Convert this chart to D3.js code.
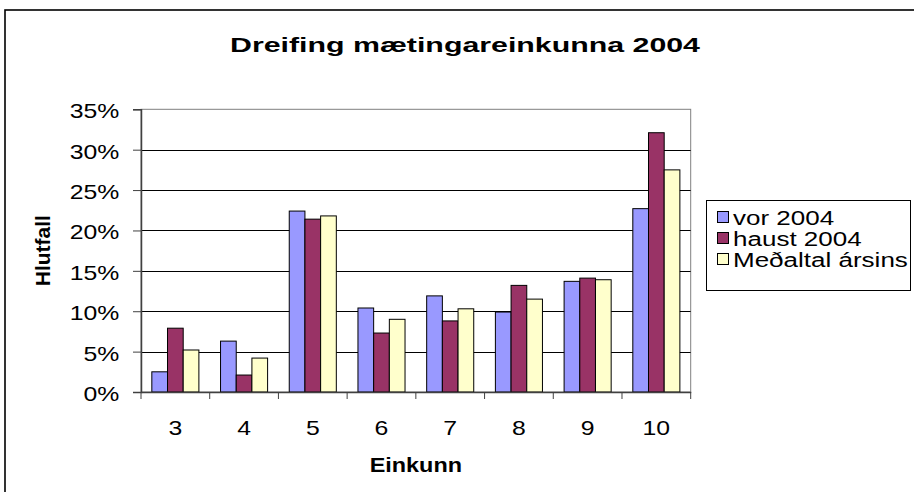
<!DOCTYPE html>
<html><head><meta charset="utf-8">
<script src="https://cdn.jsdelivr.net/npm/d3@7"></script>
<style>body{margin:0;background:#fff}svg{display:block;font-family:Arial,"Liberation Sans",sans-serif}</style>
</head><body><svg id="c" width="914" height="492"></svg>
<script>
const categories = ["3","4","5","6","7","8","9","10"];
const seriesNames = ["vor 2004","haust 2004","Meðaltal ársins"];
const vor = [2.5, 6.3, 22.4, 10.4, 11.9, 9.9, 13.7, 22.7];
const haust = [7.9, 2.1, 21.4, 7.3, 8.8, 13.2, 14.1, 32.1];
const medaltal = [5.2, 4.2, 21.8, 9.0, 10.3, 11.5, 13.9, 27.5];
const yTicks = [0,5,10,15,20,25,30,35];
const colors = ["#9999FF","#993366","#FFFFCC"];
const seriesValues = [vor, haust, medaltal];

const FONT = "Arial, 'Liberation Sans', sans-serif";
function stretch(sel, f){
  sel.each(function(){
    const w = this.getComputedTextLength();
    d3.select(this).attr("textLength", w*f).attr("lengthAdjust","spacingAndGlyphs");
  });
}

const svg = d3.select("#c");
// outer frame
svg.append("rect").attr("x",5).attr("y",10).attr("width",930).attr("height",500)
  .attr("fill","#fff").attr("stroke","#000").attr("stroke-width",1.6);

const L=141, R=690.7, T=109.3, B=392;
const x = d3.scaleBand().domain(categories).range([L,R]).paddingInner(0).paddingOuter(0);
const x1 = d3.scaleBand().domain([0,1,2]).range([0,x.bandwidth()]).paddingInner(0).paddingOuter(0.69);
const y = d3.scaleLinear().domain([0,35]).range([B,T]);

// plot area border (gray)
svg.append("rect").attr("x",L).attr("y",T).attr("width",R-L).attr("height",B-T)
  .attr("fill","#fff").attr("stroke","#808080").attr("stroke-width",1);

// gridlines
svg.append("g").selectAll("line").data(yTicks.filter(t=>t>0 && t<35)).join("line")
  .attr("x1",L).attr("x2",R).attr("y1",d=>Math.round(y(d))+0.5).attr("y2",d=>Math.round(y(d))+0.5)
  .attr("stroke","#000").attr("stroke-width",1);

// bars
const data = [];
categories.forEach((c,i)=>seriesValues.forEach((s,j)=>data.push({c,j,v:s[i]})));
svg.append("g").selectAll("rect").data(data).join("rect")
  .attr("x",d=>x(d.c)+x1(d.j)).attr("width",x1.bandwidth())
  .attr("y",d=>y(d.v)).attr("height",d=>y(0)-y(d.v))
  .attr("fill",d=>colors[d.j]).attr("stroke","#000").attr("stroke-width",1);

// y axis
const yAxis = d3.axisLeft(y).tickValues(yTicks).tickFormat(d=>d+"%").tickSize(8).tickPadding(13.7);
const gy = svg.append("g").attr("transform",`translate(${L},0)`).call(yAxis);
gy.select(".domain").attr("stroke","#404040").attr("stroke-width",1.5);
gy.selectAll(".tick line").attr("stroke","#404040");
gy.selectAll("text").attr("font-size",21).attr("fill","#000").attr("font-family",FONT).attr("dy","8.5px");
stretch(gy.selectAll("text"),1.18);

// x axis
const xAxis = d3.axisBottom(x).tickSize(0).tickPadding(0);
const gx = svg.append("g").attr("transform",`translate(0,${B})`).call(xAxis);
gx.select(".domain").attr("stroke","#404040").attr("stroke-width",1.5);
gx.selectAll("text").attr("font-size",21).attr("fill","#000").attr("font-family",FONT).attr("y",43).attr("dy",0);
stretch(gx.selectAll("text"),1.18);
// category boundary ticks
gx.append("g").selectAll("line").data(categories.concat(["end"])).join("line")
  .attr("x1",d=>d==="end"?R:x(d)).attr("x2",d=>d==="end"?R:x(d))
  .attr("y1",0).attr("y2",7).attr("stroke","#404040").attr("stroke-width",1);

// title
svg.append("text").attr("x",465).attr("y",52).attr("text-anchor","middle")
  .attr("font-size",21).attr("font-weight","bold")
  .attr("textLength",470).attr("lengthAdjust","spacingAndGlyphs")
  .text("Dreifing mætingareinkunna 2004");

// axis titles
const xt = svg.append("text").attr("x",(L+R)/2).attr("y",472).attr("text-anchor","middle")
  .attr("font-size",19.5).attr("font-weight","bold").text("Einkunn");
stretch(xt,1.2);
svg.append("text").attr("transform",`translate(50,${(T+B)/2}) rotate(-90)`).attr("text-anchor","middle")
  .attr("font-size",21).attr("font-weight","bold").text("Hlutfall");

// legend
const lg = svg.append("g");
lg.append("rect").attr("x",706.5).attr("y",200.5).attr("width",204).attr("height",90)
  .attr("fill","#fff").attr("stroke","#000").attr("stroke-width",1);
const rows = [217,238,259];
seriesNames.forEach((n,i)=>{
  lg.append("rect").attr("x",717.5).attr("y",rows[i]-5.5).attr("width",11).attr("height",11)
    .attr("fill",colors[i]).attr("stroke","#000").attr("stroke-width",1);
  const t = lg.append("text").attr("x",733).attr("y",rows[i]+7.5).attr("font-size",20).text(n);
  stretch(t,1.3);
});
</script></body></html>
